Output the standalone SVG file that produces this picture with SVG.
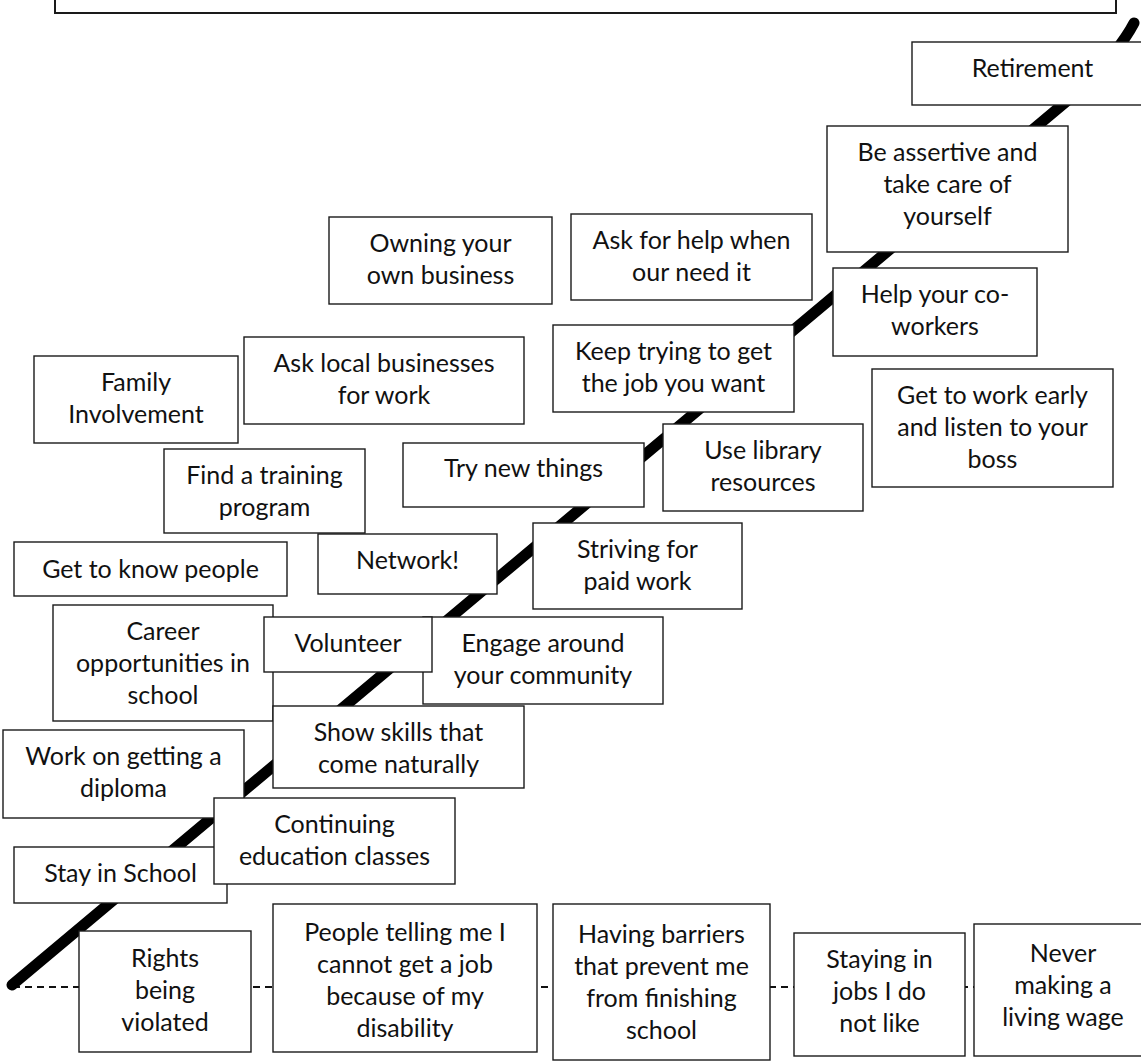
<svg xmlns="http://www.w3.org/2000/svg" width="1141" height="1063" viewBox="0 0 1141 1063">
<style>
.bx{fill:#fff;stroke:#1a1a1a;stroke-width:1.4}
.t{font-family:Lato,"Liberation Sans",sans-serif;font-size:25px;fill:#111;text-anchor:middle}
</style>
<rect width="1141" height="1063" fill="#fff"/>
<g id="header"><rect x="55" y="-20" width="1061" height="33" fill="#fff" stroke="#1a1a1a" stroke-width="2"/></g>
<g id="connectors">
<path d="M13 987 H1000" fill="none" stroke="#111" stroke-width="1.8" stroke-dasharray="7 5"/>
<path d="M12 985 L1080 90 Q1120 50 1134 23" fill="none" stroke="#000" stroke-width="11" stroke-linecap="round" stroke-linejoin="round"/>
</g>
<g id="n-retirement"><rect class="bx" x="912" y="42" width="241" height="63"/><text class="t"><tspan x="1032.5" y="77">Retirement</tspan></text></g>
<g id="n-assertive"><rect class="bx" x="827" y="126" width="241" height="126"/><text class="t"><tspan x="947.5" y="161">Be assertive and</tspan><tspan x="947.5" y="193">take care of</tspan><tspan x="947.5" y="225">yourself</tspan></text></g>
<g id="n-owning"><rect class="bx" x="329" y="217" width="223" height="87"/><text class="t"><tspan x="440.5" y="252">Owning your</tspan><tspan x="440.5" y="284">own business</tspan></text></g>
<g id="n-askhelp"><rect class="bx" x="571" y="214" width="241" height="86"/><text class="t"><tspan x="691.5" y="249">Ask for help when</tspan><tspan x="691.5" y="281">our need it</tspan></text></g>
<g id="n-helpco"><rect class="bx" x="833" y="268" width="204" height="88"/><text class="t"><tspan x="935" y="303">Help your co-</tspan><tspan x="935" y="335">workers</tspan></text></g>
<g id="n-family"><rect class="bx" x="34" y="356" width="204" height="87"/><text class="t"><tspan x="136" y="391">Family</tspan><tspan x="136" y="423">Involvement</tspan></text></g>
<g id="n-asklocal"><rect class="bx" x="244" y="337" width="280" height="87"/><text class="t"><tspan x="384" y="372">Ask local businesses</tspan><tspan x="384" y="404">for work</tspan></text></g>
<g id="n-keeptrying"><rect class="bx" x="553" y="325" width="241" height="87"/><text class="t"><tspan x="673.5" y="360">Keep trying to get</tspan><tspan x="673.5" y="392">the job you want</tspan></text></g>
<g id="n-getwork"><rect class="bx" x="872" y="369" width="241" height="118"/><text class="t"><tspan x="992.5" y="404">Get to work early</tspan><tspan x="992.5" y="436">and listen to your</tspan><tspan x="992.5" y="468">boss</tspan></text></g>
<g id="n-training"><rect class="bx" x="164" y="449" width="201" height="84"/><text class="t"><tspan x="264.5" y="484">Find a training</tspan><tspan x="264.5" y="516">program</tspan></text></g>
<g id="n-trynew"><rect class="bx" x="403" y="443" width="241" height="64"/><text class="t"><tspan x="523.5" y="477">Try new things</tspan></text></g>
<g id="n-library"><rect class="bx" x="663" y="424" width="200" height="87"/><text class="t"><tspan x="763" y="459">Use library</tspan><tspan x="763" y="491">resources</tspan></text></g>
<g id="n-knowpeople"><rect class="bx" x="14" y="542" width="273" height="54"/><text class="t"><tspan x="150.5" y="578">Get to know people</tspan></text></g>
<g id="n-network"><rect class="bx" x="318" y="534" width="179" height="60"/><text class="t"><tspan x="407.5" y="569">Network!</tspan></text></g>
<g id="n-striving"><rect class="bx" x="533" y="523" width="209" height="86"/><text class="t"><tspan x="637.5" y="558">Striving for</tspan><tspan x="637.5" y="590">paid work</tspan></text></g>
<g id="n-career"><rect class="bx" x="53" y="605" width="220" height="116"/><text class="t"><tspan x="163" y="640">Career</tspan><tspan x="163" y="672">opportunities in</tspan><tspan x="163" y="704">school</tspan></text></g>
<g id="n-engage"><rect class="bx" x="423" y="617" width="240" height="87"/><text class="t"><tspan x="543" y="652">Engage around</tspan><tspan x="543" y="684">your community</tspan></text></g>
<g id="n-volunteer"><rect class="bx" x="264" y="617" width="168" height="55"/><text class="t"><tspan x="348" y="652">Volunteer</tspan></text></g>
<g id="n-skills"><rect class="bx" x="273" y="706" width="251" height="82"/><text class="t"><tspan x="398.5" y="741">Show skills that</tspan><tspan x="398.5" y="773">come naturally</tspan></text></g>
<g id="n-diploma"><rect class="bx" x="3" y="730" width="241" height="88"/><text class="t"><tspan x="123.5" y="765">Work on getting a</tspan><tspan x="123.5" y="797">diploma</tspan></text></g>
<g id="n-stay"><rect class="bx" x="14" y="847" width="213" height="56"/><text class="t"><tspan x="120.5" y="882">Stay in School</tspan></text></g>
<g id="n-continuing"><rect class="bx" x="214" y="798" width="241" height="86"/><text class="t"><tspan x="334.5" y="833">Continuing</tspan><tspan x="334.5" y="865">education classes</tspan></text></g>
<g id="n-rights"><rect class="bx" x="79" y="931" width="172" height="121"/><text class="t"><tspan x="165" y="967">Rights</tspan><tspan x="165" y="999">being</tspan><tspan x="165" y="1031">violated</tspan></text></g>
<g id="n-people"><rect class="bx" x="273" y="904" width="264" height="148"/><text class="t"><tspan x="405" y="941">People telling me I</tspan><tspan x="405" y="973">cannot get a job</tspan><tspan x="405" y="1005">because of my</tspan><tspan x="405" y="1037">disability</tspan></text></g>
<g id="n-barriers"><rect class="bx" x="553" y="904" width="217" height="156"/><text class="t"><tspan x="661.5" y="943">Having barriers</tspan><tspan x="661.5" y="975">that prevent me</tspan><tspan x="661.5" y="1007">from finishing</tspan><tspan x="661.5" y="1039">school</tspan></text></g>
<g id="n-staying"><rect class="bx" x="794" y="933" width="171" height="123"/><text class="t"><tspan x="879.5" y="968">Staying in</tspan><tspan x="879.5" y="1000">jobs I do</tspan><tspan x="879.5" y="1032">not like</tspan></text></g>
<g id="n-never"><rect class="bx" x="974" y="924" width="178" height="132"/><text class="t"><tspan x="1063" y="962">Never</tspan><tspan x="1063" y="994">making a</tspan><tspan x="1063" y="1026">living wage</tspan></text></g>
</svg>
